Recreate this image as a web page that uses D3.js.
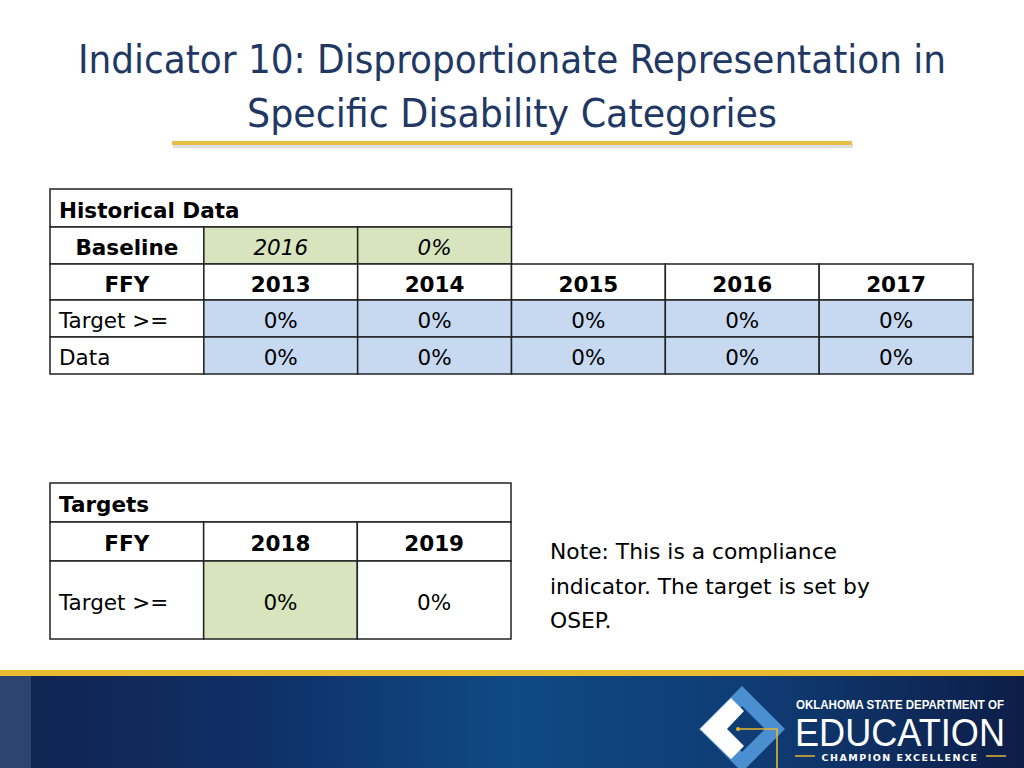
<!DOCTYPE html>
<html>
<head>
<meta charset="utf-8">
<script src="https://cdn.jsdelivr.net/npm/d3@7"></script>
<style>
  body { margin: 0; background: #fff; }
  svg { display: block; }
</style>
</head>
<body>
<svg width="1024" height="768"></svg>
<script>
// data
const titleLines = ["Indicator 10: Disproportionate Representation in", "Specific Disability Categories"];
const baselineYear = "2016";
const baselineValue = "0%";
const histYears = ["2013", "2014", "2015", "2016", "2017"];
const histTarget = ["0%", "0%", "0%", "0%", "0%"];
const histData = ["0%", "0%", "0%", "0%", "0%"];
const targetYears = ["2018", "2019"];
const targetValues = ["0%", "0%"];
const noteLines = ["Note: This is a compliance", "indicator. The target is set by", "OSEP."];

const svg = d3.select("svg");
const FONT = "'DejaVu Sans', sans-serif";
const navy = "#1f3864";
const green = "#d7e4bd";
const blue = "#c6d9f1";

// title
svg.selectAll("text.title")
  .data(titleLines)
  .enter().append("text")
  .attr("class", "title")
  .attr("x", 512)
  .attr("y", (d, i) => 73 + i * 54)
  .attr("text-anchor", "middle")
  .attr("font-family", "'Liberation Sans Narrow', 'DejaVu Sans Condensed', 'Liberation Sans', sans-serif")
  .attr("font-size", 39)
  .attr("textLength", (d, i) => i === 0 ? 868 : 530)
  .attr("lengthAdjust", "spacingAndGlyphs")
  .attr("fill", navy)
  .text(d => d);

svg.append("rect").attr("x", 173).attr("y", 144).attr("width", 680).attr("height", 4).attr("fill", "#c9c9c9").attr("opacity", 0.6);
svg.append("rect").attr("x", 172).attr("y", 141).attr("width", 680).attr("height", 4).attr("fill", "#e5bd45");

// table 1
const col = d3.scaleBand().domain(d3.range(6)).range([50, 973]);
const rowEdges1 = [189, 227, 264, 300, 337, 374];
const rY = i => rowEdges1[i];
const rH = i => rowEdges1[i + 1] - rowEdges1[i];

const cells1 = [];
cells1.push({ c: 0, r: 0, span: 3, text: "Historical Data", bold: true, anchor: "start" });
cells1.push({ c: 0, r: 1, span: 1, text: "Baseline", bold: true });
cells1.push({ c: 1, r: 1, span: 1, text: baselineYear, italic: true, fill: green });
cells1.push({ c: 2, r: 1, span: 1, text: baselineValue, italic: true, fill: green });
cells1.push({ c: 0, r: 2, span: 1, text: "FFY", bold: true });
histYears.forEach((y, i) => cells1.push({ c: i + 1, r: 2, span: 1, text: y, bold: true }));
cells1.push({ c: 0, r: 3, span: 1, text: "Target >=", anchor: "start" });
histTarget.forEach((v, i) => cells1.push({ c: i + 1, r: 3, span: 1, text: v, fill: blue }));
cells1.push({ c: 0, r: 4, span: 1, text: "Data", anchor: "start" });
histData.forEach((v, i) => cells1.push({ c: i + 1, r: 4, span: 1, text: v, fill: blue }));

drawCells(svg.append("g"), cells1, col, rY, rH);

// table 2
const col2 = d3.scaleBand().domain(d3.range(3)).range([50, 511]);
const rowEdges2 = [483, 522, 561, 639];
const cells2 = [];
cells2.push({ c: 0, r: 0, span: 3, text: "Targets", bold: true, anchor: "start" });
cells2.push({ c: 0, r: 1, span: 1, text: "FFY", bold: true });
targetYears.forEach((y, i) => cells2.push({ c: i + 1, r: 1, span: 1, text: y, bold: true }));
cells2.push({ c: 0, r: 2, span: 1, text: "Target >=", anchor: "start" });
targetValues.forEach((v, i) => cells2.push({ c: i + 1, r: 2, span: 1, text: v, fill: i === 0 ? green : null }));
drawCells(svg.append("g"), cells2, col2, i => rowEdges2[i], i => rowEdges2[i + 1] - rowEdges2[i]);

function drawCells(g, cells, xs, ry, rh) {
  const cell = g.selectAll("g.cell").data(cells).enter().append("g").attr("class", "cell");
  cell.append("rect")
    .attr("x", d => xs(d.c))
    .attr("y", d => ry(d.r))
    .attr("width", d => xs.bandwidth() * d.span)
    .attr("height", d => rh(d.r))
    .attr("fill", d => d.fill || "#fff")
    .attr("stroke", "#222")
    .attr("stroke-width", 1.5);
  cell.append("text")
    .attr("x", d => d.anchor === "start" ? xs(d.c) + 9 : xs(d.c) + xs.bandwidth() * d.span / 2)
    .attr("y", d => ry(d.r) + rh(d.r) / 2)
    .attr("dy", "0.46em")
    .attr("text-anchor", d => d.anchor || "middle")
    .attr("font-family", FONT)
    .attr("font-size", 21.5)
    .attr("font-weight", d => d.bold ? "bold" : "normal")
    .attr("font-style", d => d.italic ? "italic" : "normal")
    .attr("fill", "#000")
    .text(d => d.text);
}

// note
svg.selectAll("text.note")
  .data(noteLines)
  .enter().append("text")
  .attr("class", "note")
  .attr("x", 550)
  .attr("y", (d, i) => 559 + i * 34.5)
  .attr("font-family", FONT)
  .attr("font-size", 21.8)
  .attr("fill", "#000")
  .text(d => d);

// footer
const defs = svg.append("defs");
const grad = defs.append("linearGradient").attr("id", "foot").attr("x1", 0).attr("x2", 1).attr("y1", 0).attr("y2", 0);
[[0, "#11234f"], [0.25, "#0f2f66"], [0.5, "#0f4a85"], [0.75, "#0f3b72"], [1, "#0d1d48"]]
  .forEach(s => grad.append("stop").attr("offset", s[0]).attr("stop-color", s[1]));

svg.append("rect").attr("x", 0).attr("y", 670).attr("width", 1024).attr("height", 6).attr("fill", "#e8bb33");
svg.append("rect").attr("x", 0).attr("y", 676).attr("width", 1024).attr("height", 92).attr("fill", "url(#foot)");
svg.append("rect").attr("x", 0).attr("y", 676).attr("width", 31).attr("height", 92).attr("fill", "#2d4470");

// logo
const logo = svg.append("g");
logo.append("path")
  .attr("d", "M742,686 L785,729 L742,772 L699,729 Z M742,706 L719,729 L742,752 L765,729 Z")
  .attr("fill-rule", "evenodd")
  .attr("fill", "#4a8fd0");
logo.append("path")
  .attr("d", "M731,698 L744,711 L727,729 L744,746 L731,759 L700,729 Z")
  .attr("fill", "#ffffff");
logo.append("path")
  .attr("d", "M738,729 L777,729 L777,768")
  .attr("fill", "none")
  .attr("stroke", "#e6b62f")
  .attr("stroke-width", 1.6);
logo.append("circle").attr("cx", 738).attr("cy", 729).attr("r", 2).attr("fill", "#e6b62f");

logo.append("text")
  .attr("x", 796).attr("y", 709)
  .attr("font-family", "'Liberation Sans Narrow', 'Liberation Sans', sans-serif")
  .attr("font-weight", "bold")
  .attr("font-size", 12)
  .attr("textLength", 208).attr("lengthAdjust", "spacingAndGlyphs")
  .attr("fill", "#fff")
  .text("OKLAHOMA STATE DEPARTMENT OF");
logo.append("text")
  .attr("x", 795).attr("y", 746)
  .attr("font-family", "'Liberation Sans Narrow', 'Liberation Sans', sans-serif")
  .attr("font-size", 38)
  .attr("textLength", 210).attr("lengthAdjust", "spacingAndGlyphs")
  .attr("fill", "#fff")
  .text("EDUCATION");
logo.append("line").attr("x1", 795).attr("x2", 815).attr("y1", 756).attr("y2", 756).attr("stroke", "#e6b62f").attr("stroke-width", 1.5);
logo.append("line").attr("x1", 986).attr("x2", 1006).attr("y1", 756).attr("y2", 756).attr("stroke", "#e6b62f").attr("stroke-width", 1.5);
logo.append("text")
  .attr("x", 900).attr("y", 761)
  .attr("text-anchor", "middle")
  .attr("font-family", FONT)
  .attr("font-weight", "bold")
  .attr("font-size", 9.5)
  .attr("letter-spacing", 1.5)
  .attr("fill", "#fff")
  .text("CHAMPION EXCELLENCE");
</script>
</body>
</html>
